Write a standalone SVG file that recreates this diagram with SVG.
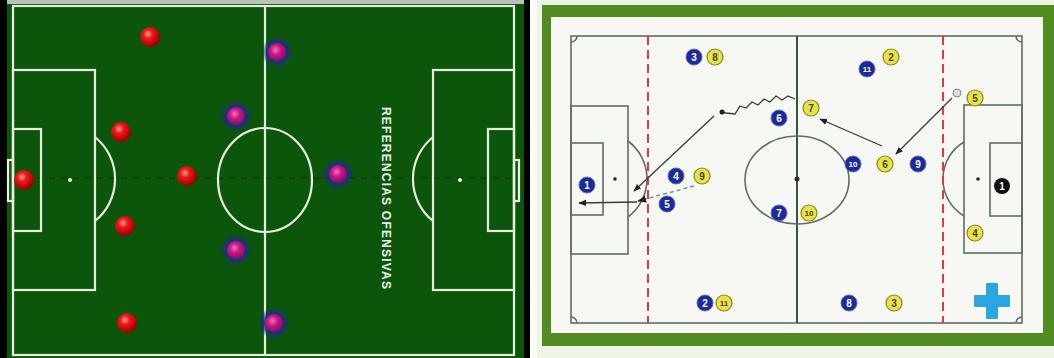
<svg xmlns="http://www.w3.org/2000/svg" width="1054" height="358" viewBox="0 0 1054 358">
<style>
.wl{fill:none;stroke:#e8efe0;stroke-width:2.2}
.pl{fill:none;stroke:#5d6f60;stroke-width:1.6}
.rd{fill:none;stroke:#e23a3a;stroke-width:2;stroke-dasharray:9 5}
.cn{fill:none;stroke:#3a3a3a;stroke-width:1.3}
.bp circle{fill:#1d2a9a;stroke:#5a68c8;stroke-width:1}
.bp text{fill:#fff;font:bold 10px "Liberation Sans",Arial,sans-serif;text-anchor:middle}
.yp circle{fill:#e8e244;stroke:#8c8420;stroke-width:1.2}
.yp text{fill:#444;font:bold 10px "Liberation Sans",Arial,sans-serif;text-anchor:middle}
.kp circle{fill:#111}
.kp text{fill:#fff;font:bold 10px "Liberation Sans",Arial,sans-serif;text-anchor:middle}
</style>
<defs>
<radialGradient id="red" cx="40%" cy="35%" r="65%"><stop offset="0" stop-color="#ff9a9a"/><stop offset="0.35" stop-color="#f01818"/><stop offset="1" stop-color="#9a0000"/></radialGradient>
<radialGradient id="pur" cx="42%" cy="38%" r="65%"><stop offset="0" stop-color="#f070c0"/><stop offset="0.45" stop-color="#c8147e"/><stop offset="1" stop-color="#7a1070"/></radialGradient>
<radialGradient id="halo"><stop offset="0" stop-color="#1c2c88"/><stop offset="0.6" stop-color="#1c2c88" stop-opacity="0.9"/><stop offset="1" stop-color="#1c2c88" stop-opacity="0"/></radialGradient>
<marker id="ah" viewBox="0 0 10 10" refX="9" refY="5" markerWidth="6" markerHeight="6" orient="auto"><path d="M0,1 L10,5 L0,9 Z" fill="#222"/></marker>
</defs>

<!-- LEFT PANEL -->
<rect x="0" y="0" width="530" height="358" fill="#000"/>
<rect x="7" y="0" width="517" height="358" fill="#0c560c"/>
<rect x="7" y="0" width="517" height="4" fill="#b9c2b6"/>
<line x1="13" y1="178" x2="514" y2="178" stroke="#052f05" stroke-width="1.2" stroke-dasharray="6 6"/>
<g id="left-pitch">
<rect class="wl" x="13" y="6" width="501" height="349"/>
<line class="wl" x1="265" y1="6" x2="265" y2="355"/>
<ellipse class="wl" cx="265" cy="180" rx="47" ry="52"/>
<rect class="wl" x="13" y="70" width="82" height="220"/>
<rect class="wl" x="13" y="129" width="28" height="102"/>
<path class="wl" d="M95,137 A54 54 0 0 1 95,221"/>
<rect class="wl" x="8" y="160" width="5" height="41"/>
<circle cx="70" cy="180" r="2" fill="#e8efe0"/>
<rect class="wl" x="433" y="70" width="81" height="220"/>
<rect class="wl" x="488" y="129" width="26" height="102"/>
<path class="wl" d="M433,137 A54 54 0 0 0 433,221"/>
<rect class="wl" x="514" y="160" width="5" height="41"/>
<circle cx="460" cy="180" r="2" fill="#e8efe0"/>
</g>
<g id="red-team">
<circle cx="150" cy="37" r="10" fill="url(#red)"/>
<circle cx="121" cy="132" r="10" fill="url(#red)"/>
<circle cx="24" cy="180" r="10" fill="url(#red)"/>
<circle cx="187" cy="176" r="10" fill="url(#red)"/>
<circle cx="125" cy="226" r="10" fill="url(#red)"/>
<circle cx="127" cy="323" r="10" fill="url(#red)"/>
</g>
<g id="purple-team">
<circle cx="277" cy="52" r="16" fill="url(#halo)"/><circle cx="277" cy="52" r="9" fill="url(#pur)"/>
<circle cx="236" cy="116" r="16" fill="url(#halo)"/><circle cx="236" cy="116" r="9" fill="url(#pur)"/>
<circle cx="338" cy="174" r="16" fill="url(#halo)"/><circle cx="338" cy="174" r="9" fill="url(#pur)"/>
<circle cx="236" cy="250" r="16" fill="url(#halo)"/><circle cx="236" cy="250" r="9" fill="url(#pur)"/>
<circle cx="274" cy="323" r="16" fill="url(#halo)"/><circle cx="274" cy="323" r="9" fill="url(#pur)"/>
</g>
<text x="386" y="198" transform="rotate(90 386 198)" fill="#eef2ea" font-family="'Liberation Sans',Arial,sans-serif" font-weight="bold" font-size="12" text-anchor="middle" dominant-baseline="central" textLength="182" lengthAdjust="spacing">REFERENCIAS OFENSIVAS</text>

<!-- RIGHT PANEL -->
<rect x="530" y="0" width="524" height="358" fill="#fafcf6"/>
<rect x="537" y="0" width="517" height="358" fill="#eef5e6"/>
<rect x="542" y="5" width="512" height="341" fill="#508c20"/>
<rect x="551" y="17" width="492" height="316" fill="#f7f8f4"/>
<g id="right-pitch">
<rect class="pl" x="571" y="36" width="451" height="287"/>
<line x1="797" y1="36" x2="797" y2="323" stroke="#2f5a3a" stroke-width="2"/>
<ellipse class="pl" cx="797" cy="180" rx="52" ry="44"/>
<circle cx="797" cy="179" r="2.5" fill="#2a2a2a"/>
<rect class="pl" x="571" y="106" width="57" height="148"/>
<rect class="pl" x="571" y="143" width="32" height="72"/>
<path class="pl" d="M628,141 A47.5 47.5 0 0 1 628,217"/>
<circle cx="615" cy="179" r="1.8" fill="#222"/>
<rect class="pl" x="964" y="105" width="58" height="148"/>
<rect class="pl" x="990" y="143" width="32" height="73"/>
<path class="pl" d="M964,142 A43 43 0 0 0 964,216"/>
<circle cx="978" cy="179" r="1.8" fill="#222"/>
<path class="pl" d="M571,42 A6 6 0 0 0 577,36 M1016,36 A6 6 0 0 0 1022,42 M571,317 A6 6 0 0 1 577,323 M1016,323 A6 6 0 0 1 1022,317"/>
<line class="rd" x1="648" y1="36" x2="648" y2="323"/>
<line class="rd" x1="943" y1="36" x2="943" y2="323"/>
</g>
<g id="connectors">
<path class="cn" d="M795,99 L788,96 L782,100 L776,96 L770,102 L764,99 L758,105 L752,102 L746,108 L740,106 L735,114 L726,113 L722,112"/>
<circle cx="722" cy="112" r="2.5" fill="#222"/>
<line class="cn" x1="714" y1="116" x2="634" y2="191" marker-end="url(#ah)"/>
<line x1="694" y1="186" x2="638" y2="201" stroke="#7d8ba3" stroke-width="1.5" stroke-dasharray="4 3" marker-end="url(#ah)"/>
<line class="cn" x1="637" y1="202" x2="579" y2="203" marker-end="url(#ah)"/>
<line class="cn" x1="952" y1="98" x2="896" y2="154" marker-end="url(#ah)"/>
<line class="cn" x1="882" y1="146" x2="820" y2="119" marker-end="url(#ah)"/>
<circle cx="957" cy="93" r="4" fill="#ddd" stroke="#888" stroke-width="1"/>
</g>
<g id="blue-1" class="bp"><circle cx="587" cy="185" r="8"/><text x="587" y="189">1</text></g>
<g id="blue-2" class="bp"><circle cx="705" cy="303" r="8"/><text x="705" y="307">2</text></g>
<g id="blue-3" class="bp"><circle cx="694" cy="57" r="8"/><text x="694" y="61">3</text></g>
<g id="blue-4" class="bp"><circle cx="676" cy="176" r="8"/><text x="676" y="180">4</text></g>
<g id="blue-5" class="bp"><circle cx="667" cy="204" r="8"/><text x="667" y="208">5</text></g>
<g id="blue-6" class="bp"><circle cx="779" cy="118" r="8"/><text x="779" y="122">6</text></g>
<g id="blue-7" class="bp"><circle cx="779" cy="213" r="8"/><text x="779" y="217">7</text></g>
<g id="blue-8" class="bp"><circle cx="849" cy="303" r="8"/><text x="849" y="307">8</text></g>
<g id="blue-9" class="bp"><circle cx="918" cy="164" r="8"/><text x="918" y="168">9</text></g>
<g id="blue-10" class="bp"><circle cx="853" cy="164" r="8"/><text x="853" y="167" style="font-size:8px">10</text></g>
<g id="blue-11" class="bp"><circle cx="867" cy="69" r="8"/><text x="867" y="72" style="font-size:8px">11</text></g>
<g id="yellow-2" class="yp"><circle cx="891" cy="57" r="8"/><text x="891" y="61">2</text></g>
<g id="yellow-3" class="yp"><circle cx="894" cy="303" r="8"/><text x="894" y="307">3</text></g>
<g id="yellow-4" class="yp"><circle cx="975" cy="233" r="8"/><text x="975" y="237">4</text></g>
<g id="yellow-5" class="yp"><circle cx="975" cy="98" r="8"/><text x="975" y="102">5</text></g>
<g id="yellow-6" class="yp"><circle cx="885" cy="164" r="8"/><text x="885" y="168">6</text></g>
<g id="yellow-7" class="yp"><circle cx="811" cy="108" r="8"/><text x="811" y="112">7</text></g>
<g id="yellow-8" class="yp"><circle cx="715" cy="57" r="8"/><text x="715" y="61">8</text></g>
<g id="yellow-9" class="yp"><circle cx="702" cy="176" r="8"/><text x="702" y="180">9</text></g>
<g id="yellow-10" class="yp"><circle cx="809" cy="213" r="8"/><text x="809" y="216" style="font-size:8px">10</text></g>
<g id="yellow-11" class="yp"><circle cx="724" cy="303" r="8"/><text x="724" y="306" style="font-size:8px">11</text></g>
<g id="black-1" class="kp"><circle cx="1002" cy="186" r="8"/><text x="1002" y="190">1</text></g>
<g id="logo-cross"><path d="M987,284 h10 v12 h12 v10 h-12 v12 h-10 v-12 h-12 v-10 h12 z" fill="#2aa6e2" stroke="#2aa6e2" stroke-width="2" stroke-linejoin="round"/></g>
</svg>
